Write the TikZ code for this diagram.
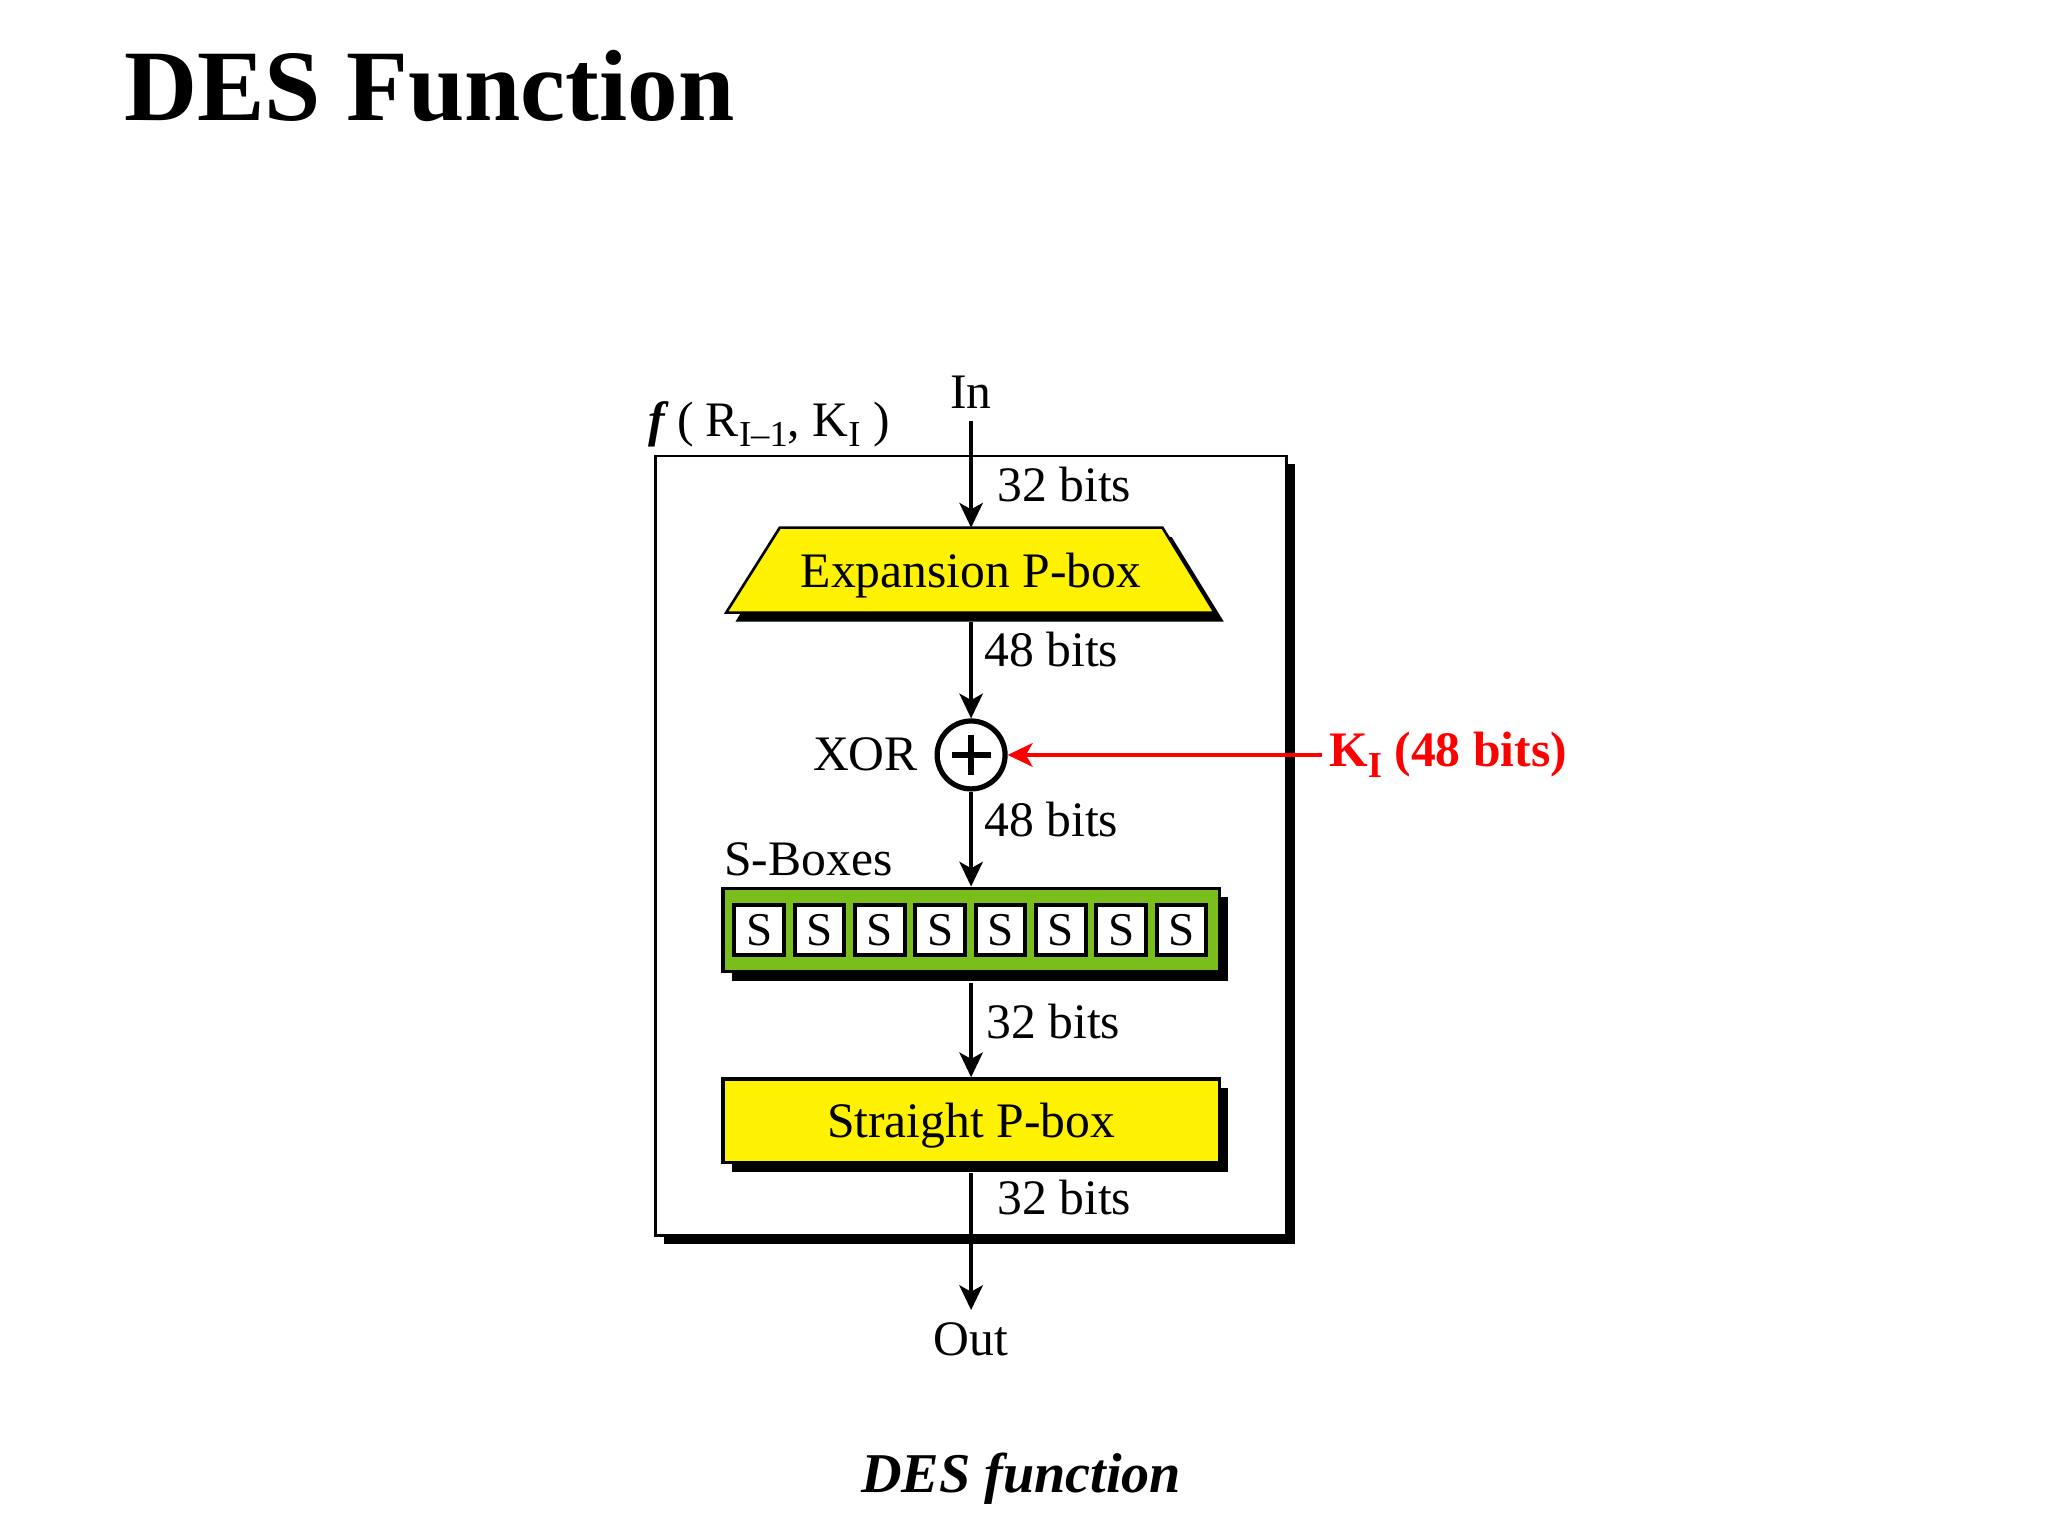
\documentclass[tikz,border=0pt]{standalone}
\usepackage{fontspec}
\setmainfont{Liberation Serif}
\usetikzlibrary{arrows.meta,shadows}
\definecolor{sgreen}{RGB}{122,190,30}
\definecolor{kred}{RGB}{255,0,0}
\begin{document}
\begin{tikzpicture}[x=1pt,y=-1pt,
  lbl/.style={font=\fontsize{38}{44}\selectfont, inner sep=0pt},
  arr/.style={line width=2.5pt, -{Stealth[length=19pt,width=18pt,inset=5pt]}},
  shd/.style={drop shadow={shadow xshift=7pt,shadow yshift=-7pt,opacity=1,fill=black}},
  ]
\useasboundingbox (0,0) rectangle (1568,1176);

% title
\node[anchor=base west, inner sep=0pt, font=\bfseries\fontsize{77.5}{90}\selectfont] (title) at (95,92.4) {DES Function};

% outer function box
\node[draw, line width=2pt, fill=white, minimum width=483pt, minimum height=597pt, inner sep=0pt,
      drop shadow={shadow xshift=6.5pt,shadow yshift=-6.5pt,opacity=1,fill=black}] (fbox) at (743.5,647.5) {};
\node[anchor=base west, inner sep=0pt, font=\fontsize{38}{44}\selectfont] (flab) at (496,334)
  {\textbf{\textit{f}}\,( R\lower8pt\hbox{\fontsize{28}{30}\selectfont I–1}, K\lower8pt\hbox{\fontsize{28}{30}\selectfont I} )};

% input
\node[lbl, anchor=base] (in) at (743.5,313) {In};
\coordinate (inTop) at (743.5,322);

% expansion P-box (trapezoid)
\coordinate (eTL) at (597,404);
\coordinate (eTR) at (890,404);
\coordinate (eBR) at (930,469);
\coordinate (eBL) at (556,469);
\coordinate (eTop) at (743.5,404);
\coordinate (eBot) at (743.5,476);
\fill[black] ([shift={(7,7)}]eTL) -- ([shift={(7,7)}]eTR) -- ([shift={(7,7)}]eBR) -- ([shift={(7,7)}]eBL) -- cycle;
\draw[line width=2pt, fill=yellow] (eTL) -- (eTR) -- (eBR) -- (eBL) -- cycle;
\node[lbl, anchor=base] (exp) at (743.5,449.5) {Expansion P-box};

% XOR
\node[circle, draw, line width=4pt, minimum size=52pt, inner sep=0pt, fill=white] (xor) at (743.5,578) {};
\draw[line width=4.5pt] ([xshift=-15pt]xor.center) -- ([xshift=15pt]xor.center);
\draw[line width=4.5pt] ([yshift=-15pt]xor.center) -- ([yshift=15pt]xor.center);
\node[lbl, anchor=base east] (xorlab) at (703,589.6) {XOR};

% S-boxes
\node[lbl, anchor=base west] (sblab) at (554.3,670) {S-Boxes};
\node[draw, line width=2.5pt, fill=sgreen, minimum width=380pt, minimum height=64pt, inner sep=0pt, shd] (sbox) at (743.5,712) {};
\foreach \i in {0,...,7}{
  \node[draw, line width=3pt, fill=white, minimum size=38pt, inner sep=0pt, text depth=0pt,
        font=\fontsize{36}{40}\selectfont] (s\i) at ({581.2+46.2*\i},712) {S};
}
\coordinate (sBot) at ([yshift=-7pt]sbox.south);

% straight P-box
\node[draw, line width=2.5pt, fill=yellow, minimum width=380pt, minimum height=64pt, shd, lbl, text depth=0pt] (str) at (743.5,858) {Straight P-box};
\coordinate (strBot) at ([yshift=-7pt]str.south);

% output
\coordinate (outTip) at (743.5,1003);
\node[lbl, anchor=base] (out) at (743.5,1037.5) {Out};

% bit-width labels
\node[lbl, anchor=base west] (b1) at (763.5,384) {32 bits};
\node[lbl, anchor=base west] (b2) at (753.5,510.5) {48 bits};
\node[lbl, anchor=base west] (b3) at (753.5,640.6) {48 bits};
\node[lbl, anchor=base west] (b4) at (755,795) {32 bits};
\node[lbl, anchor=base west] (b5) at (763.5,929.5) {32 bits};

% connectors
\draw[arr] (inTop) -- (eTop);
\draw[arr] (eBot) -- (xor.north);
\draw[arr] (xor.south) -- (sbox.north);
\draw[arr] (sBot) -- (str.north);
\draw[arr] (strBot) -- (outTip);

% round key
\node[anchor=base west, inner sep=0pt, font=\bfseries\fontsize{38}{44}\selectfont, text=kred] (klab) at (1017.6,587)
  {K\lower8pt\hbox{\fontsize{28}{30}\selectfont I} (48 bits)};
\coordinate (kStart) at (1012,578);
\draw[arr, line width=3pt, draw=kred, fill=kred] (kStart) -- (xor.east);

% caption
\node[anchor=base, inner sep=0pt, font=\bfseries\itshape\fontsize{43}{50}\selectfont] (cap) at (781.8,1143) {DES function};
\end{tikzpicture}
\end{document}
